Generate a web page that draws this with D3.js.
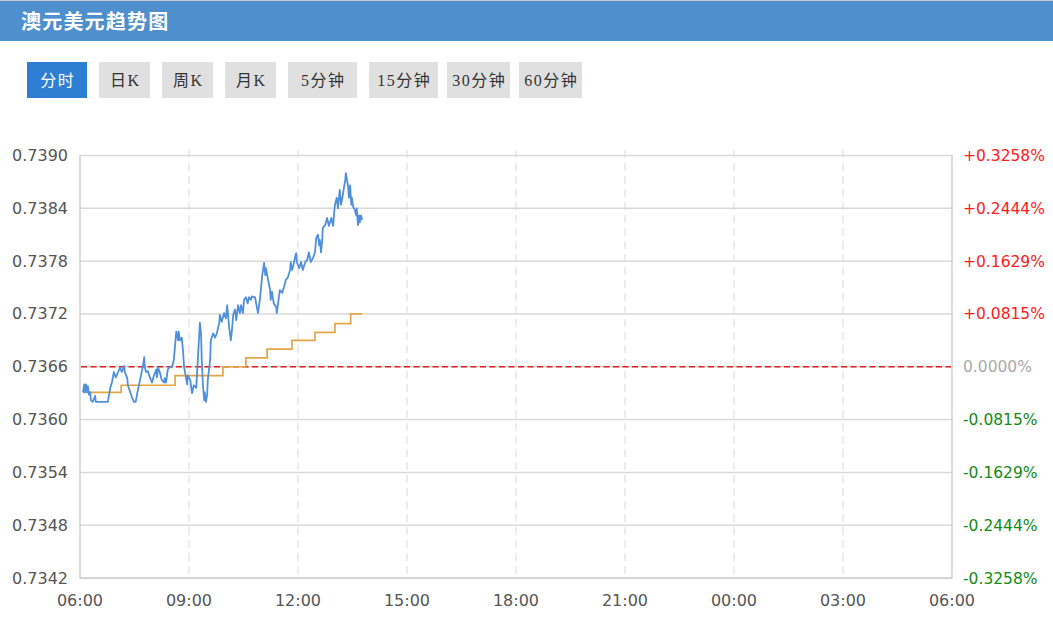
<!DOCTYPE html>
<html>
<head>
<meta charset="utf-8">
<script src="https://cdn.jsdelivr.net/npm/d3@7"></script>
<style>
  html, body { margin: 0; padding: 0; background: #fff; }
  svg { display: block; }
</style>
</head>
<body>
<svg id="chart" width="1053" height="626"></svg>
<script>
// ---------------- data ----------------
const title = "澳元美元趋势图";
const buttons = ["分时", "日K", "周K", "月K", "5分钟", "15分钟", "30分钟", "60分钟"];
const activeButton = "分时";

const prevClose = 0.7366;
const yTicks = [0.7390, 0.7384, 0.7378, 0.7372, 0.7366, 0.7360, 0.7354, 0.7348, 0.7342];
const xTickLabels = ["06:00", "09:00", "12:00", "15:00", "18:00", "21:00", "00:00", "03:00", "06:00"];

const priceTimes = [
  "06:05","06:07","06:08","06:10","06:12","06:13","06:15","06:17","06:18","06:21",
  "06:25","06:26","06:30","06:33","06:36","06:40","06:43","06:46","06:50","06:53",
  "06:56","06:59","07:03","07:06","07:09","07:13","07:14","07:18","07:19","07:23",
  "07:26","07:29","07:32","07:34","07:37","07:41","07:44","07:46","07:47","07:49",
  "07:52","07:56","07:59","08:02","08:06","08:07","08:09","08:12","08:15","08:19",
  "08:20","08:22","08:25","08:29","08:32","08:35","08:39","08:42","08:43","08:45",
  "08:48","08:50","08:52","08:55","08:57","08:58","09:02","09:05","09:08","09:12",
  "09:15","09:18","09:20","09:21","09:23","09:25","09:26","09:28","09:30","09:31",
  "09:35","09:36","09:40","09:43","09:46","09:50","09:51","09:54","09:58","10:01",
  "10:03","10:06","10:09","10:11","10:13","10:16","10:18","10:21","10:24","10:26",
  "10:29","10:31","10:34","10:37","10:39","10:42","10:44","10:47","10:49","10:54",
  "10:57","11:01","11:04","11:06","11:07","11:10","11:14","11:15","11:17","11:20",
  "11:24","11:25","11:29","11:30","11:34","11:37","11:40","11:43","11:47","11:48",
  "11:50","11:52","11:55","11:57","11:58","12:02","12:05","12:08","12:12","12:15",
  "12:18","12:21","12:25","12:28","12:30","12:33","12:35","12:36","12:38","12:40",
  "12:41","12:45","12:48","12:51","12:55","12:58","12:59","13:01","13:04","13:06",
  "13:09","13:11","13:14","13:16","13:18","13:19","13:21","13:23","13:24","13:26",
  "13:28","13:29","13:31","13:34","13:36","13:37","13:39","13:41","13:42","13:44",
  "13:46"
];
const priceValues = [
  0.73631,0.73640,0.73631,0.73640,0.73631,0.73638,0.73628,0.73631,0.73622,0.73620,
  0.73627,0.73620,0.73620,0.73620,0.73620,0.73620,0.73620,0.73620,0.73636,0.73643,
  0.73654,0.73648,0.73654,0.73659,0.73654,0.73661,0.73654,0.73647,0.73639,0.73631,
  0.73625,0.73620,0.73620,0.73628,0.73638,0.73651,0.73661,0.73671,0.73660,0.73654,
  0.73655,0.73647,0.73642,0.73650,0.73657,0.73648,0.73659,0.73653,0.73645,0.73642,
  0.73647,0.73642,0.73657,0.73660,0.73660,0.73668,0.73700,0.73690,0.73700,0.73690,
  0.73693,0.73679,0.73659,0.73648,0.73640,0.73650,0.73645,0.73630,0.73639,0.73636,
  0.73673,0.73710,0.73696,0.73668,0.73639,0.73622,0.73631,0.73620,0.73628,0.73645,
  0.73668,0.73690,0.73698,0.73693,0.73698,0.73710,0.73719,0.73711,0.73721,0.73715,
  0.73730,0.73707,0.73690,0.73702,0.73719,0.73725,0.73713,0.73730,0.73721,0.73730,
  0.73721,0.73736,0.73739,0.73732,0.73739,0.73736,0.73740,0.73739,0.73739,0.73721,
  0.73736,0.73764,0.73778,0.73764,0.73772,0.73761,0.73747,0.73736,0.73745,0.73732,
  0.73728,0.73721,0.73742,0.73747,0.73744,0.73751,0.73759,0.73761,0.73770,0.73779,
  0.73770,0.73774,0.73784,0.73789,0.73779,0.73772,0.73779,0.73770,0.73779,0.73781,
  0.73790,0.73779,0.73784,0.73790,0.73806,0.73810,0.73798,0.73804,0.73790,0.73804,
  0.73818,0.73821,0.73829,0.73820,0.73829,0.73820,0.73829,0.73844,0.73852,0.73840,
  0.73861,0.73844,0.73855,0.73864,0.73872,0.73880,0.73872,0.73863,0.73852,0.73866,
  0.73844,0.73852,0.73842,0.73838,0.73832,0.73840,0.73821,0.73832,0.73824,0.73832,
  0.73827
];

const avgTimes  = ["06:05","07:08","08:37","09:56","10:34","11:09","11:50","12:28","13:01","13:27","13:46"];
const avgValues = [0.73631,0.73639,0.73650,0.73660,0.73670,0.73680,0.73690,0.73699,0.73709,0.73720,0.73720];

// ---------------- drawing ----------------
const W = 1053, H = 626;
const svg = d3.select("#chart");
const cjk = "'Noto Sans CJK SC', 'Microsoft YaHei', sans-serif";
const num = "'DejaVu Sans', Verdana, sans-serif";

// top border + header
svg.append("rect").attr("x", 0).attr("y", 0).attr("width", W).attr("height", 41).attr("fill", "#4e8fce");
svg.append("rect").attr("x", 0).attr("y", 0).attr("width", W).attr("height", 1).attr("fill", "#c9c9c9");
svg.append("text").attr("x", 21).attr("y", 28.5)
  .attr("fill", "#fff").attr("font-family", cjk).attr("font-weight", "bold")
  .attr("font-size", 20).attr("letter-spacing", 1.2).text(title);

// buttons
const btnX = [27, 99, 162, 225, 288, 369, 447, 519];
const btnW = [60, 51, 51, 51, 69, 69, 63, 63];
const bg = svg.append("g");
buttons.forEach((b, i) => {
  const active = b === activeButton;
  bg.append("rect").attr("x", btnX[i]).attr("y", 62).attr("width", btnW[i]).attr("height", 36)
    .attr("fill", active ? "#2e7fd3" : "#e0e0e0");
  bg.append("text").attr("x", btnX[i] + btnW[i] / 2 + 0.75).attr("y", 85.5)
    .attr("text-anchor", "middle").attr("font-size", 16).attr("letter-spacing", 1.5)
    .attr("font-family", "'Liberation Serif', " + cjk)
    .attr("fill", active ? "#fff" : "#333").text(b);
});

// scales
const parse = d3.timeParse("%Y-%m-%d %H:%M");
const t0 = parse("2021-01-01 06:00"), t1 = parse("2021-01-02 06:00");
const x = d3.scaleTime().domain([t0, t1]).range([80, 952]);
const y = d3.scaleLinear().domain([yTicks[yTicks.length - 1], yTicks[0]]).range([578, 155.5]);
const toDate = s => parse("2021-01-01 " + s);

// vertical dashed grid
const xTicks = x.ticks(d3.timeHour.every(3));
svg.append("g").selectAll("line").data(xTicks.slice(1, -1)).join("line")
  .attr("x1", d => x(d)).attr("x2", d => x(d)).attr("y1", 150).attr("y2", 578)
  .attr("stroke", "#e6e6e6").attr("stroke-width", 1.5).attr("stroke-dasharray", "8,5");

// horizontal grid
svg.append("g").selectAll("line").data(yTicks).join("line")
  .attr("x1", 80).attr("x2", 952).attr("y1", d => y(d)).attr("y2", d => y(d))
  .attr("stroke", "#d9d9d9").attr("stroke-width", 1.5);

// frame
svg.append("line").attr("x1", 80).attr("x2", 80).attr("y1", 155).attr("y2", 578.5).attr("stroke", "#cfcfcf").attr("stroke-width", 1.5);
svg.append("line").attr("x1", 952).attr("x2", 952).attr("y1", 155).attr("y2", 578.5).attr("stroke", "#cfcfcf").attr("stroke-width", 1.5);
svg.append("line").attr("x1", 80).attr("x2", 952).attr("y1", 578).attr("y2", 578).attr("stroke", "#cfcfcf").attr("stroke-width", 1.5);

// left axis labels
svg.append("g").selectAll("text").data(yTicks).join("text")
  .attr("x", 68).attr("y", d => y(d) + 5.5).attr("text-anchor", "end")
  .attr("font-family", num).attr("font-size", 16).attr("fill", "#555")
  .text(d => d3.format(".4f")(d));

// right percent labels
const pct = d => (d - prevClose) / prevClose * 100;
svg.append("g").selectAll("text").data(yTicks).join("text")
  .attr("x", 963).attr("y", d => y(d) + 5.5).attr("text-anchor", "start")
  .attr("font-family", num).attr("font-size", 15.5)
  .attr("fill", d => Math.abs(pct(d)) < 1e-9 ? "#aaaaaa" : (pct(d) > 0 ? "#ff1a1a" : "#138a13"))
  .text(d => {
    const p = pct(d);
    if (Math.abs(p) < 1e-9) return "0.0000%";
    return (p > 0 ? "+" : "-") + d3.format(".4f")(Math.abs(p)) + "%";
  });

// x axis labels
svg.append("g").selectAll("text").data(xTicks).join("text")
  .attr("x", d => x(d)).attr("y", 606).attr("text-anchor", "middle")
  .attr("font-family", num).attr("font-size", 16).attr("fill", "#555")
  .text((d, i) => xTickLabels[i]);

// previous close dashed line
svg.append("line").attr("x1", 81).attr("x2", 951).attr("y1", y(prevClose)).attr("y2", y(prevClose))
  .attr("stroke", "#e0201c").attr("stroke-width", 1.5).attr("stroke-dasharray", "6,3.5");

// average line
const avgData = avgTimes.map((t, i) => ({ t: toDate(t), v: avgValues[i] }));
svg.append("path").datum(avgData)
  .attr("fill", "none").attr("stroke", "#e3a545").attr("stroke-width", 1.7)
  .attr("d", d3.line().x(d => x(d.t)).y(d => y(d.v)).curve(d3.curveStepAfter));

// price line
const priceData = priceTimes.map((t, i) => ({ t: toDate(t), v: priceValues[i] }));
svg.append("path").datum(priceData)
  .attr("fill", "none").attr("stroke", "#4f8fdb").attr("stroke-width", 1.8)
  .attr("stroke-linejoin", "round")
  .attr("d", d3.line().x(d => x(d.t)).y(d => y(d.v)));
</script>
</body>
</html>
